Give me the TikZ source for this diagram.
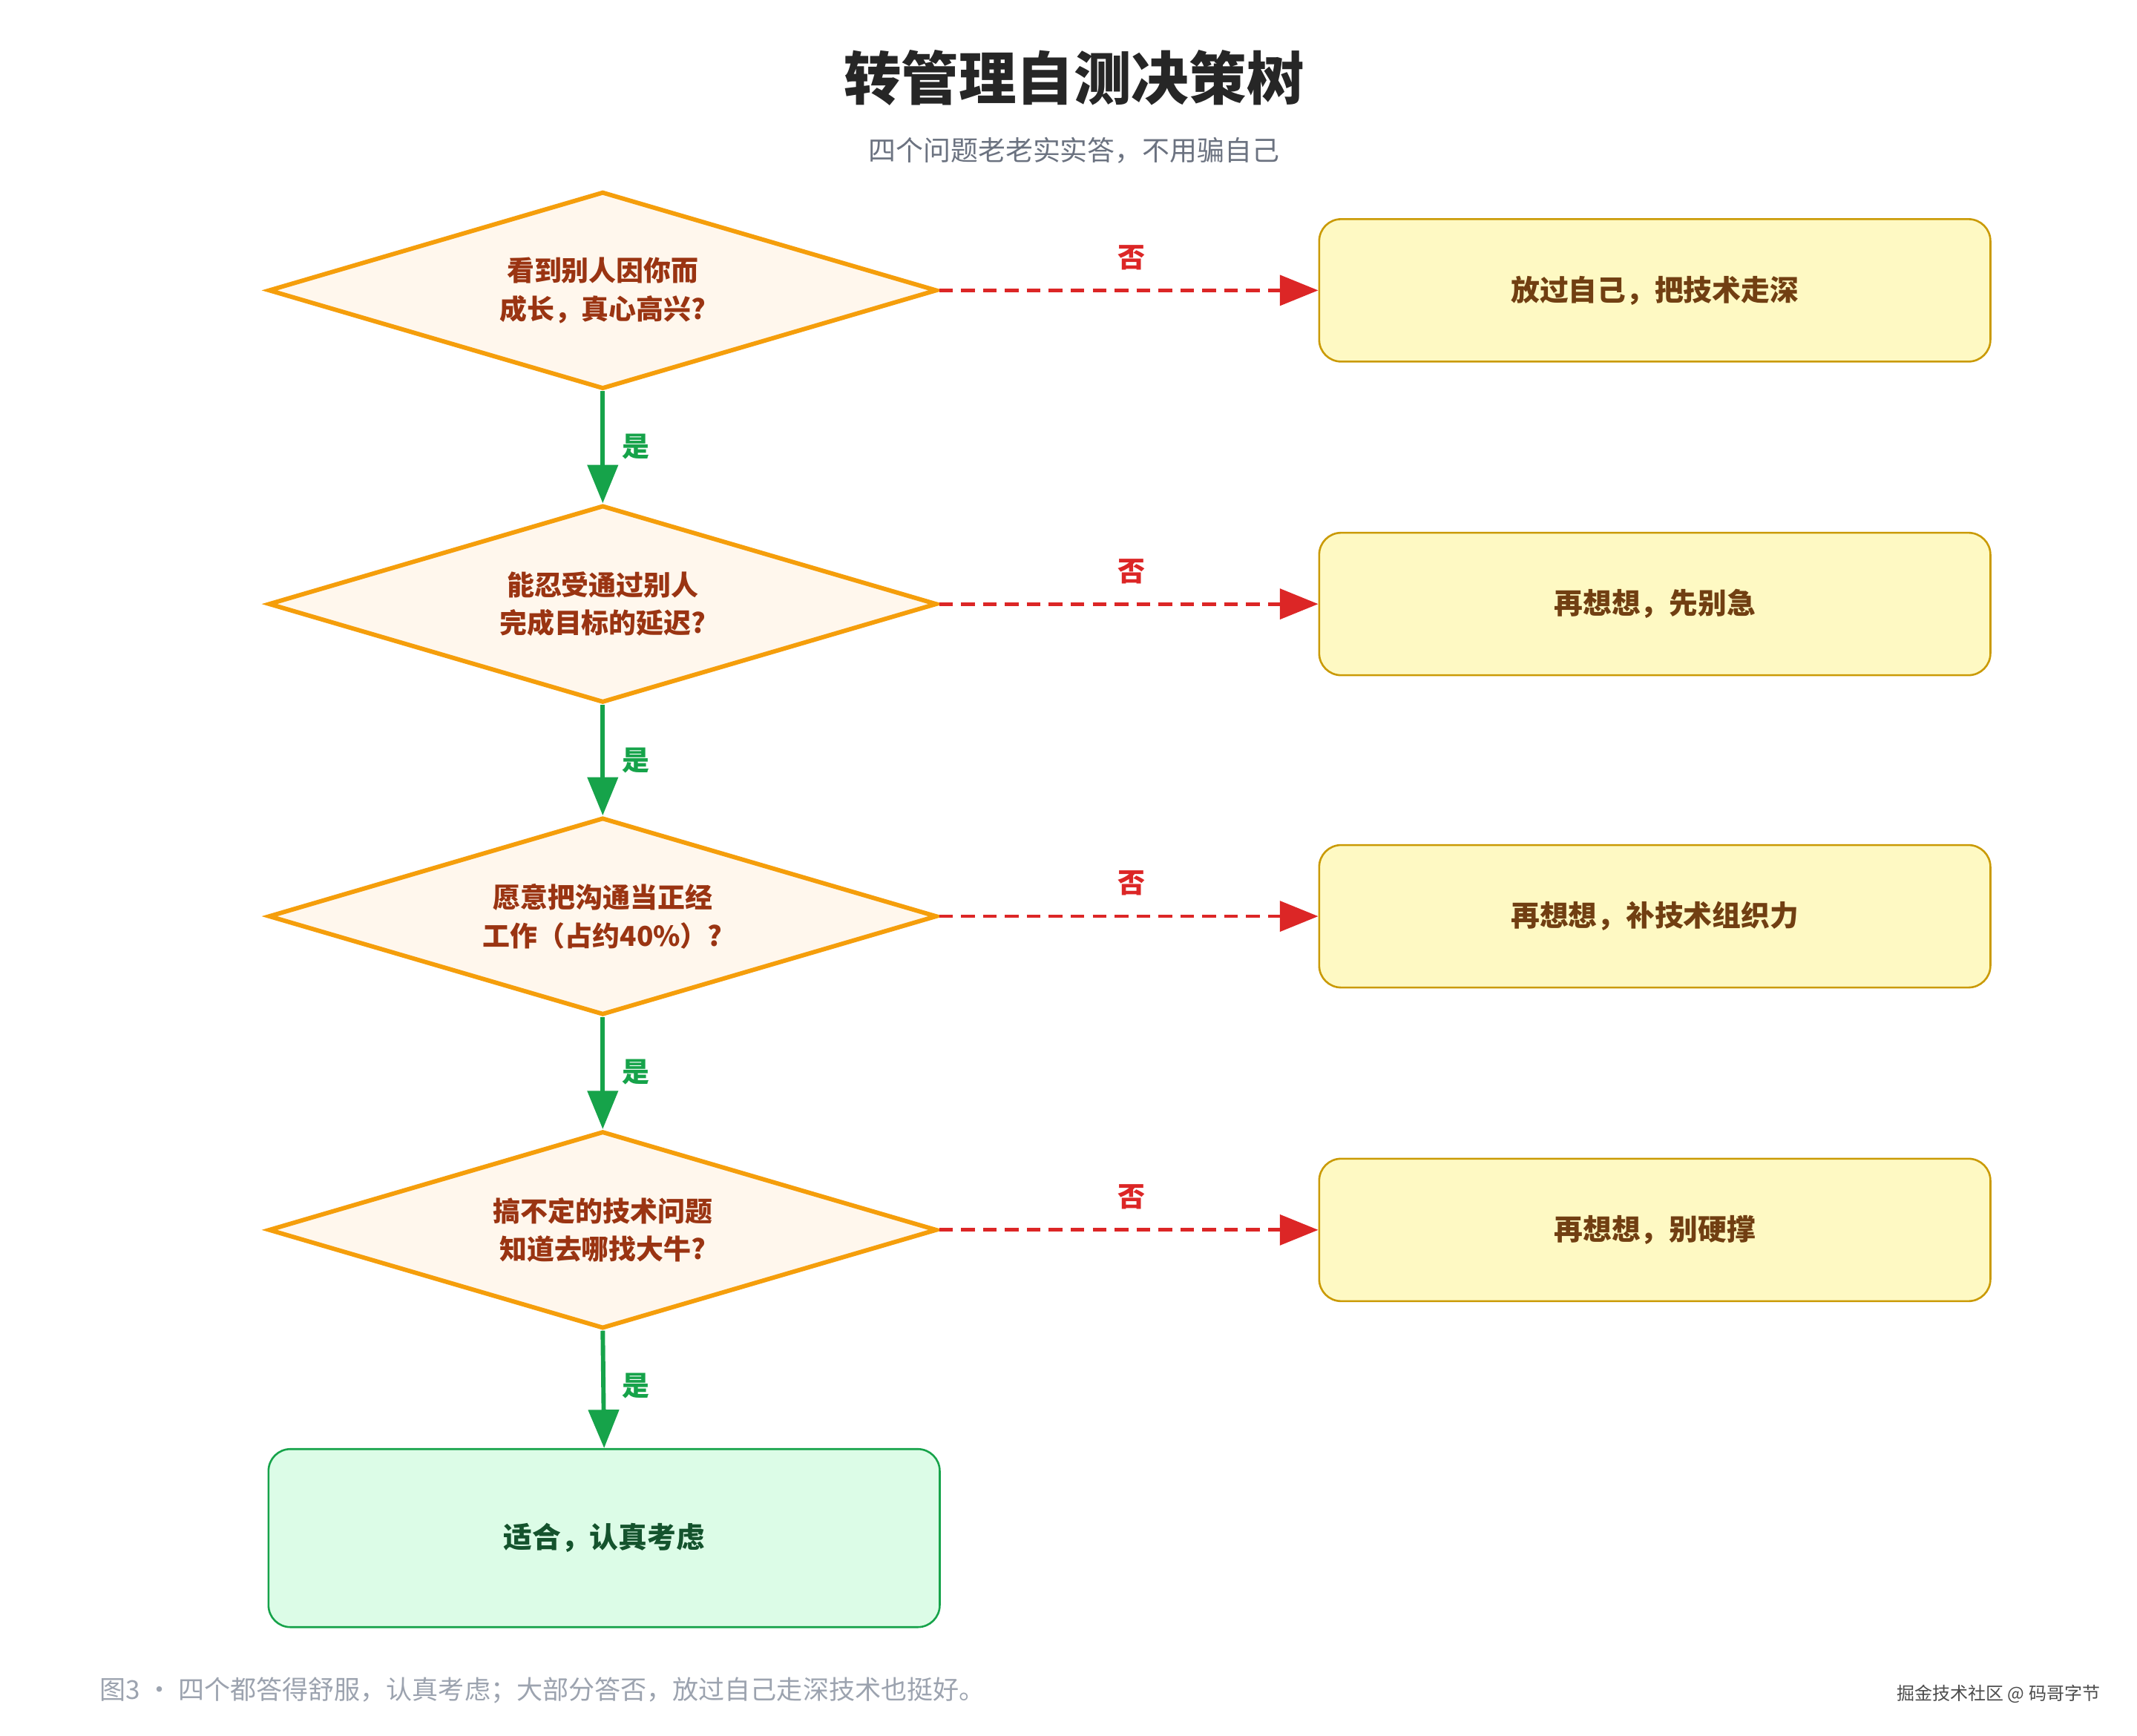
\documentclass[tikz,border=0pt]{standalone}
\usepackage{fontspec}
\setmainfont{Noto Sans CJK SC}
\usetikzlibrary{shapes.geometric,arrows.meta}
\definecolor{dfill}{HTML}{FFF7ED}\definecolor{dline}{HTML}{F59E0B}\definecolor{dtext}{HTML}{9A3412}
\definecolor{bfill}{HTML}{FEF9C3}\definecolor{bline}{HTML}{CA9A04}\definecolor{btext}{HTML}{713F12}
\definecolor{gfill}{HTML}{DCFCE7}\definecolor{gline}{HTML}{16A34A}\definecolor{gtext}{HTML}{14532D}
\definecolor{red}{HTML}{DC2626}\definecolor{gray}{HTML}{9CA3AF}\definecolor{sub}{HTML}{6B7280}
\begin{document}
\begin{tikzpicture}[x=0.5pt,y=-0.5pt,
 dia/.style={diamond,aspect=3.39,draw=dline,fill=dfill,line width=1.6pt,minimum width=244pt,minimum height=72pt,inner sep=0pt,text=dtext,font=\fontsize{10}{14}\selectfont\bfseries,align=center},
 box/.style={rounded corners=8pt,draw=bline,fill=bfill,line width=0.7pt,minimum width=245pt,minimum height=52pt,text=btext,font=\fontsize{10.5}{13}\selectfont\bfseries},
 yes/.style={draw=gline,line width=1.6pt,-{Triangle[length=14pt,width=11pt]}},
 no/.style={draw=red,line width=1.3pt,dash pattern=on 5pt off 3pt,-{Triangle[length=14pt,width=11pt]}},
 yl/.style={text=gline,font=\fontsize{10}{12}\selectfont\bfseries},
 nl/.style={text=red,font=\fontsize{10}{12}\selectfont\bfseries}]
\useasboundingbox[fill=white] (0,0) rectangle (1560,1267.5);
\node[font=\fontsize{21}{24}\selectfont\bfseries,text=black!85] (t) at (784,57) {转管理自测决策树};
\node[font=\fontsize{10}{12}\selectfont,text=sub] (s) at (784,110) {四个问题老老实实答，不用骗自己};
\node[dia] (d1) at (440,212) {看到别人因你而\\成长，真心高兴?};
\node[dia] (d2) at (440,441) {能忍受通过别人\\完成目标的延迟?};
\node[dia] (d3) at (440,669) {愿意把沟通当正经\\工作（占约40\%）?};
\node[dia] (d4) at (440,898) {搞不定的技术问题\\知道去哪找大牛?};
\node[box] (b1) at (1208,212) {放过自己，把技术走深};
\node[box] (b2) at (1208,441) {再想想，先别急};
\node[box] (b3) at (1208,669) {再想想，补技术组织力};
\node[box] (b4) at (1208,898) {再想想，别硬撑};
\node[box,draw=gline,fill=gfill,text=gtext,minimum height=65pt] (f) at (441,1123) {适合，认真考虑};
\foreach \a/\b/\y in {d1/d2/326,d2/d3/555,d3/d4/783} {\draw[yes] (\a.south) -- (\b.north); \node[yl] at (464,\y) {是};}
\draw[yes] (d4.south) -- (f.north); \node[yl] at (464,1012) {是};
\foreach \a/\b/\y in {d1/b1/188,d2/b2/417,d3/b3/645,d4/b4/874} {\draw[no] (\a.east) -- (\b.west); \node[nl] at (826,\y) {否};}
\node[anchor=west,text=gray,font=\fontsize{9.5}{12}\selectfont] (c) at (66,1234) {图3 · 四个都答得舒服，认真考虑；大部分答否，放过自己走深技术也挺好。};
\node[anchor=east,text=black!70,font=\fontsize{6.5}{8}\selectfont] (w) at (1540,1237) {掘金技术社区 @ 码哥字节};
\end{tikzpicture}
\end{document}
